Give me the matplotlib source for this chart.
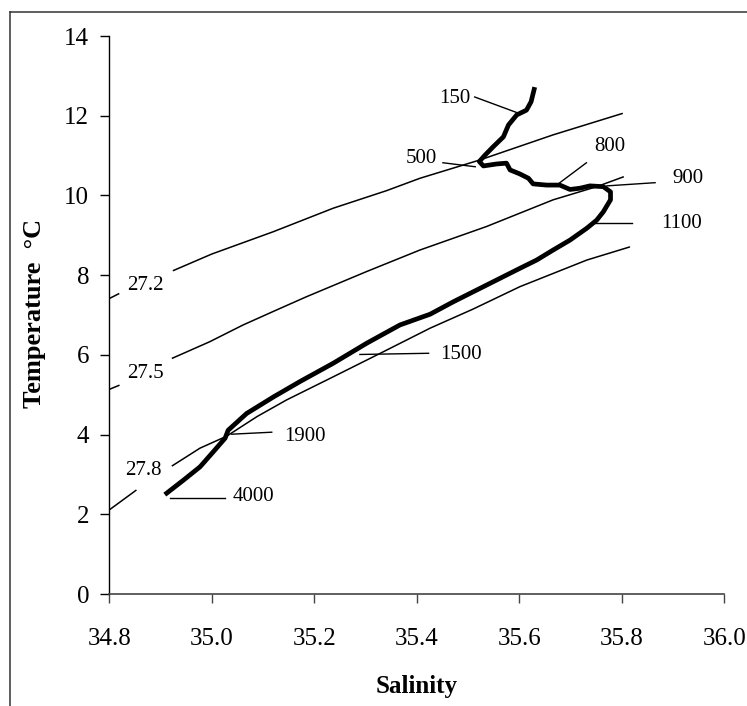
import matplotlib
matplotlib.use("Agg")
import matplotlib.pyplot as plt
from matplotlib.lines import Line2D

plt.rcParams['font.family'] = ['Liberation Serif', 'DejaVu Serif']

# T-S profile (salinity, temperature), surface to bottom
ts_sal = [35.629, 35.623, 35.614, 35.595, 35.579, 35.569, 35.549, 35.533, 35.522,
          35.530, 35.556, 35.575, 35.582, 35.601, 35.618, 35.627, 35.653, 35.679,
          35.699, 35.718, 35.738, 35.764, 35.778, 35.778, 35.770, 35.764, 35.751,
          35.732, 35.699, 35.666, 35.634, 35.601, 35.536, 35.471, 35.426, 35.367,
          35.302, 35.237, 35.172, 35.121, 35.068, 35.032, 35.026, 35.003, 34.977,
          34.945, 34.912]
ts_temp = [12.66, 12.35, 12.14, 12.02, 11.77, 11.47, 11.22, 11.01, 10.85,
           10.74, 10.79, 10.81, 10.64, 10.54, 10.43, 10.29, 10.26, 10.26,
           10.15, 10.18, 10.24, 10.22, 10.09, 9.89, 9.72, 9.59, 9.38,
           9.18, 8.88, 8.63, 8.38, 8.17, 7.75, 7.33, 7.02, 6.75,
           6.29, 5.79, 5.33, 4.95, 4.53, 4.11, 3.91, 3.57, 3.19,
           2.86, 2.53]

# isopycnals: each drawn in two pieces, split around its label
sig272_a_s = [34.801, 34.8195]
sig272_a_t = [7.42, 7.54]
sig272_b_s = [34.924, 35.0, 35.12, 35.237, 35.341, 35.406, 35.523, 35.666, 35.802]
sig272_b_t = [8.11, 8.53, 9.09, 9.68, 10.12, 10.43, 10.89, 11.52, 12.06]

sig275_a_s = [34.801, 34.82]
sig275_a_t = [5.14, 5.24]
sig275_b_s = [34.922, 34.996, 35.061, 35.127, 35.185, 35.302, 35.406, 35.536, 35.666, 35.751, 35.804]
sig275_b_t = [5.91, 6.33, 6.75, 7.13, 7.46, 8.09, 8.63, 9.22, 9.89, 10.22, 10.47]

sig278_a_s = [34.801, 34.853]
sig278_a_t = [2.12, 2.61]
sig278_b_s = [34.922, 34.977, 35.029, 35.088, 35.146, 35.237, 35.335, 35.426, 35.51, 35.601, 35.732, 35.816]
sig278_b_t = [3.21, 3.66, 3.96, 4.45, 4.87, 5.45, 6.08, 6.67, 7.15, 7.71, 8.38, 8.71]

sigma_labels = ["27.2", "27.5", "27.8"]
sigma_label_s = [34.870, 34.870, 34.867]
sigma_label_t = [7.75, 5.54, 3.11]

# depth labels and their leader lines
depth_labels = ["150", "500", "800", "900", "1100", "1500", "1900", "4000"]
depth_text_s = [35.475, 35.408, 35.777, 35.930, 35.917, 35.486, 35.182, 35.081]
depth_text_t = [12.44, 10.93, 11.24, 10.43, 9.30, 6.01, 3.95, 2.44]
leader_s0 = [35.513, 35.451, 35.731, 35.865, 35.820, 35.289, 35.039, 34.918]
leader_t0 = [12.47, 10.82, 10.82, 10.32, 9.30, 6.01, 4.01, 2.42]
leader_s1 = [35.595, 35.514, 35.676, 35.771, 35.745, 35.423, 35.117, 35.026]
leader_t1 = [12.08, 10.72, 10.29, 10.24, 9.30, 6.04, 4.06, 2.42]

fig = plt.figure(figsize=(7.47, 7.06), dpi=100)
ax = fig.add_axes([0.1463, 0.1586, 0.8233, 0.7904])

for s, t in [(sig272_a_s, sig272_a_t), (sig272_b_s, sig272_b_t),
             (sig275_a_s, sig275_a_t), (sig275_b_s, sig275_b_t),
             (sig278_a_s, sig278_a_t), (sig278_b_s, sig278_b_t)]:
    ax.plot(s, t, color='black', lw=1.1, solid_capstyle='butt')

ax.plot(ts_sal, ts_temp, color='black', lw=3.4, solid_joinstyle='round')

for i in range(len(depth_labels)):
    ax.plot([leader_s0[i], leader_s1[i]], [leader_t0[i], leader_t1[i]],
            color='black', lw=1.0)
    ax.text(depth_text_s[i], depth_text_t[i], depth_labels[i], fontsize=15,
            ha='center', va='center')

for lab, s, t in zip(sigma_labels, sigma_label_s, sigma_label_t):
    ax.text(s, t, lab, fontsize=15, ha='center', va='center')

ax.set_xlim(34.8, 36.0)
ax.set_ylim(0, 14)
ax.set_xticks([34.8, 35.0, 35.2, 35.4, 35.6, 35.8, 36.0])
ax.set_xticklabels(["34.8", "35.0", "35.2", "35.4", "35.6", "35.8", "36.0"])
ax.set_yticks(range(0, 15, 2))

ax.spines['top'].set_visible(False)
ax.spines['right'].set_visible(False)
ax.spines['left'].set_linewidth(1.0)
ax.spines['bottom'].set_linewidth(1.2)
ax.spines['bottom'].set_color('#444444')
ax.tick_params(axis='both', direction='out', length=6.5, width=1.0, labelsize=18)
ax.tick_params(axis='x', pad=18, color='#444444')
ax.tick_params(axis='y', pad=8)

fig.text(35 / 747, 1 - 313 / 706, "Temperature  \u00b0C", rotation=90,
         ha='center', va='center', fontsize=19, fontweight='bold')
fig.text(416.7 / 747, 1 - 686 / 706, "Salinity", ha='center', va='center',
         fontsize=18, fontweight='bold')

# chart border
fx = 9.5 / 747
fy = 1 - 11.7 / 706
fig.add_artist(Line2D([fx, fx], [0, fy], color='#333333', lw=1.1, transform=fig.transFigure))
fig.add_artist(Line2D([fx, 1], [fy, fy], color='#333333', lw=1.1, transform=fig.transFigure))

fig.savefig("out.png", dpi=100)
